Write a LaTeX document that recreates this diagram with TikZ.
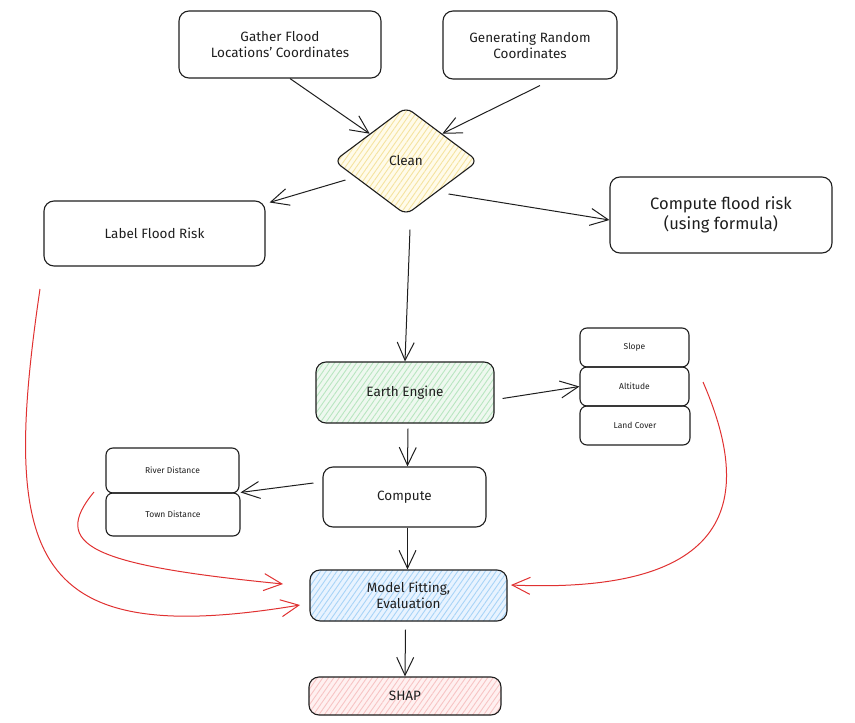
\documentclass[tikz,border=0pt]{standalone}
\usepackage{fontspec}
\setmainfont{Fira Sans}
\usetikzlibrary{arrows.meta,shapes.geometric,patterns.meta}
\definecolor{ink}{HTML}{1E1E1E}
\definecolor{redline}{HTML}{E03131}
\definecolor{yelbg}{HTML}{FFFBEA}
\definecolor{yelhatch}{HTML}{F5E3A0}
\definecolor{grnbg}{HTML}{EEF8EF}
\definecolor{grnhatch}{HTML}{B8E6C0}
\definecolor{blubg}{HTML}{E8F3FF}
\definecolor{bluhatch}{HTML}{A8D4F7}
\definecolor{redbg}{HTML}{FFF0F0}
\definecolor{redhatch}{HTML}{F7C4C4}
\tikzset{
  box/.style={draw=ink, line width=1.1pt, rounded corners=10pt, align=center, inner sep=2pt, font=\fontsize{13.5}{16}\selectfont, text=ink},
  smallbox/.style={box, rounded corners=7pt, font=\fontsize{8.5}{10}\selectfont, minimum width=134pt},
  hatch/.style 2 args={preaction={fill=#1}, preaction={pattern={Lines[angle=55,distance=4.5pt,line width=0.9pt]}, pattern color=#2}},
  arr/.style={draw=ink, line width=1pt, -{Straight Barb[length=18pt,width=17pt,line width=1pt]}},
  redarr/.style={draw=redline, line width=1pt, -{Straight Barb[length=18pt,width=17pt,line width=1pt]}},
}
\begin{document}
\begin{tikzpicture}[x=1pt,y=-1pt]
\useasboundingbox (0,0) rectangle (855,723);
% nodes
\node[box, minimum width=202pt, minimum height=67pt] (gather) at (280,44.5) {Gather Flood\\Locations' Coordinates};
\node[box, minimum width=174pt, minimum height=68pt] (random) at (530,45) {Generating Random\\Coordinates};
\node[draw=ink, line width=1.1pt, diamond, rounded corners=8pt, minimum width=144pt, minimum height=108pt, inner sep=0pt, text=ink, font=\fontsize{13.5}{16}\selectfont, hatch={yelbg}{yelhatch}] (clean) at (406,161) {Clean};
\node[box, minimum width=221pt, minimum height=65pt] (label) at (154.5,233.5) {Label Flood Risk};
\node[box, minimum width=222pt, minimum height=76pt, font=\fontsize{16.5}{19.5}\selectfont] (formula) at (721,215) {Compute flood risk\\(using formula)};
\node[box, minimum width=178pt, minimum height=61pt, hatch={grnbg}{grnhatch}] (earth) at (405,392.5) {Earth Engine};
\node[smallbox, minimum width=109pt, minimum height=39pt] (slope) at (634.5,347.5) {Slope};
\node[smallbox, minimum width=109pt, minimum height=39pt] (alt) at (634.5,386.5) {Altitude};
\node[smallbox, minimum width=110pt, minimum height=39pt] (land) at (635,425.5) {Land Cover};
\node[smallbox, minimum width=133pt, minimum height=45pt] (river) at (172.5,470.5) {River Distance};
\node[smallbox, minimum width=134pt, minimum height=43pt] (town) at (173,514.5) {Town Distance};
\node[box, minimum width=163pt, minimum height=60pt] (compute) at (404.5,497) {Compute};
\node[box, minimum width=197pt, minimum height=51pt, hatch={blubg}{bluhatch}] (model) at (408.5,595.5) {Model Fitting,\\Evaluation};
\node[box, minimum width=192pt, minimum height=38pt, hatch={redbg}{redhatch}] (shap) at (405,696) {SHAP};
% black connectors
\draw[arr] ([xshift=10pt]gather.south) -- (clean.north west);
\draw[arr] ([xshift=10pt,yshift=-6pt]random.south) -- (clean.north east);
\draw[arr] ([xshift=12pt,yshift=-19pt]clean.west) -- ([xshift=4pt,yshift=-2pt]label.north east);
\draw[arr] ([xshift=-30pt,yshift=-33pt]clean.east) -- ([yshift=-5pt]formula.west);
\draw[arr] ([xshift=4pt,yshift=-14pt]clean.south) -- (earth.north);
\draw[arr] ([xshift=8pt,yshift=-6pt]earth.east) -- (alt.west);
\draw[arr] ([xshift=3pt,yshift=-5pt]earth.south) -- ([xshift=3pt]compute.north);
\draw[arr] ([xshift=-9pt,yshift=14pt]compute.west) -- (town.north east);
\draw[arr] ([xshift=3pt]compute.south) -- ([xshift=-1pt]model.north);
\draw[arr] ([xshift=-3pt,yshift=-8pt]model.south) -- ([xshift=0pt]shap.north);
% red connectors
\coordinate (r1s) at (40,289);
\coordinate (r1e) at (300,605);
\coordinate (r2s) at (94,492);
\coordinate (r2e) at (283,584);
\coordinate (r3s) at (703,382);
\coordinate (r3e) at (511,585);
\draw[redarr] (r1s) .. controls (0,560) and (30,650) .. (r1e);
\draw[redarr] (r2s) .. controls (50,545) and (90,565) .. (r2e);
\draw[redarr] (r3s) .. controls (750,490) and (745,595) .. (r3e);
\end{tikzpicture}
\end{document}
